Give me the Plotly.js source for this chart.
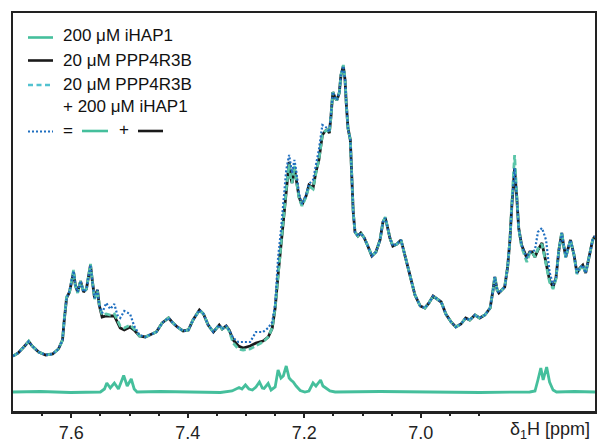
<!DOCTYPE html>
<html>
<head>
<meta charset="utf-8">
<script src="https://cdn.plot.ly/plotly-3.0.1.min.js"></script>
<style>html,body{margin:0;padding:0;background:#fff;}#chart{width:597px;height:443px;}</style>
</head>
<body>
<div id="chart"></div>
<script>
// chemical shift grid (ppm) shared by the protein / mixture / sum spectra
const ppm = [
7.700,7.691,7.680,7.673,7.667,7.656,7.644,7.632,7.622,7.615,
7.612,7.608,7.603,7.596,7.593,7.589,7.584,7.579,7.574,7.567,
7.564,7.560,7.555,7.552,7.547,7.540,7.533,7.526,7.521,7.516,
7.509,7.499,7.492,7.483,7.473,7.464,7.454,7.444,7.433,7.427,
7.418,7.408,7.399,7.391,7.380,7.373,7.365,7.356,7.351,7.346,
7.341,7.334,7.329,7.322,7.313,7.305,7.293,7.283,7.271,7.262,
7.255,7.250,7.245,7.240,7.235,7.231,7.226,7.223,7.221,7.217,
7.214,7.209,7.204,7.197,7.192,7.185,7.180,7.175,7.169,7.164,
7.161,7.157,7.154,7.151,7.147,7.144,7.140,7.137,7.133,7.130,
7.128,7.125,7.121,7.118,7.116,7.113,7.108,7.103,7.097,7.091,
7.084,7.077,7.070,7.065,7.061,7.058,7.053,7.048,7.041,7.034,
7.029,7.024,7.017,7.010,7.001,6.993,6.986,6.979,6.972,6.965,
6.957,6.948,6.940,6.931,6.923,6.916,6.907,6.899,6.890,6.881,
6.876,6.873,6.869,6.866,6.861,6.856,6.851,6.847,6.844,6.840,
6.839,6.835,6.832,6.827,6.818,6.813,6.809,6.804,6.799,6.792,
6.785,6.779,6.773,6.768,6.763,6.758,6.755,6.751,6.748,6.743,
6.737,6.732,6.727,6.722,6.717,6.710,6.705,6.701];

// 20 uM PPP4R3B (black)
const ppp4r3b = [
54,57,64,68.5,64,58,55,56,61,70,
90,112,118,138,125,118,129,118,121,145,
130,112,120,105,93,94,94,94,88,82,
80,83,80,74,73,75,78,87,92,88,
83,79,80,90,100,96,85,78,81,85,
81,84,80,70,64,62,64,67,69,73,
82,102,135,165,195,220,248,232,227,242,
232,213,205,214,225,222,238,250,275,279,
280,277,295,318,312,310,317,335,344,330,
307,282,270,230,198,178,174,177,172,164,
154,158,170,188,192,185,172,164,166,170,
158,147,132,115,104,102,107,114,111,108,
96,88,83,86,92,90,95,92,95,102,
120,133,120,117,120,123,143,170,202,235,
242,210,182,165,152,158,158,153,160,167,
148,130,123,132,160,177,165,153,160,170,
155,137,142,145,137,157,170,174];

// 20 uM PPP4R3B + 200 uM iHAP1 (dashed)
const mixture = [
54,57,64,69,64,58,55,56,61,70,
91,113,118,140,124,117,129,118,121,146,
130,111,119,106,95,96,95,96,90,84,
82,85,81,74,73,75,78,87,92,88,
83,79,80,90,100,96,85,78,81,85,
81,84,79,67,61,60,61,64,68,73,
82,103,136,166,196,221,246,230,227,244,
231,212,204,213,224,221,237,250,275,279,
280,277,295,318,312,310,317,335,345,331,
307,282,270,230,198,178,174,177,172,164,
154,158,170,188,193,185,172,164,166,170,
158,147,132,115,104,102,107,114,111,108,
96,88,83,86,92,90,95,92,95,102,
120,134,120,117,120,123,143,170,205,243,
255,212,182,163,148,157,158,153,161,166,
145,128,121,131,160,178,165,152,160,170,
155,136,141,145,137,157,170,174];

// sum of the two individual spectra (dotted)
const sumSpectrum = [
54,57,64,68.5,64,58,55,56,61,70,
90,112,119,139,125,118,129,118,121,145,
130,112,120,105,97,107,101,106,95,92,
99,96,84,75,73,75,78,87,92,88,
83,79,80,90,100,96,85,78,81,85,
81,84,80,72,68,68,68,78,78,82,
88,106,152,180,212,240,255,242,237,250,
240,216,206,215,226,230,244,260,285,283,
282,278,296,318,312,310,317,335,344,330,
307,282,270,230,198,178,174,177,172,164,
154,158,170,188,192,185,172,164,166,170,
158,147,132,115,104,102,107,114,111,108,
96,88,83,86,92,90,95,92,95,102,
120,133,120,117,120,123,143,170,202,235,
242,210,182,165,152,158,158,160,178,182,
170,138,125,132,160,177,165,153,160,170,
155,137,142,145,137,157,170,174];

// 200 uM iHAP1 alone (green, bottom)
const ppmIHAP1 = [
7.700,7.653,7.601,7.559,7.550,7.543,7.539,7.533,7.526,7.519,
7.514,7.510,7.504,7.497,7.492,7.487,7.447,7.396,7.344,7.324,
7.317,7.312,7.307,7.301,7.295,7.289,7.283,7.277,7.272,7.269,
7.262,7.257,7.250,7.245,7.240,7.236,7.231,7.226,7.223,7.219,
7.214,7.207,7.199,7.192,7.185,7.180,7.172,7.168,7.163,7.156,
7.147,7.070,6.984,6.899,6.813,6.804,6.799,6.794,6.790,6.784,
6.779,6.773,6.767,6.736,6.701];
const iHAP1 = [
18,18.5,17.5,18,18,21,27,22,27,21,
28,34.5,24,31,21,18,18.5,18,17.5,19,
21,22.5,21,25,21,20,23,28,22,21.5,
26.5,20,23,40,32,34,44,32,30,28,
24,19.5,18,19,27,24,30,24,22,19,
18,18.5,18,17.5,18,19,30,42,30,43,
28,20,18,18.5,18];

const majorTicks = [7.6, 7.4, 7.2, 7.0];
const minorTicks = [7.65,7.55,7.5,7.45,7.35,7.3,7.25,7.15,7.1,7.05,6.95,6.9];
const legendLabels = ['200 \u03bcM iHAP1','20 \u03bcM PPP4R3B','20 \u03bcM PPP4R3B','+ 200 \u03bcM iHAP1'];

const GREEN = '#45bf9c', BLACK = '#1a1a1a', DASHC = '#5ac5a8', LEGDASH = '#52c2d0', BLUE = '#1f6fc0';
const FONT = 'Liberation Sans, Arial, sans-serif';

const traces = [
  {x: ppmIHAP1, y: iHAP1, mode: 'lines', line: {color: GREEN, width: 2.8}, hoverinfo: 'skip'},
  {x: ppm, y: ppp4r3b, mode: 'lines', line: {color: BLACK, width: 2.8}, hoverinfo: 'skip'},
  {x: ppm, y: mixture, mode: 'lines', line: {color: DASHC, width: 2.8, dash: '6px,3px'}, hoverinfo: 'skip'},
  {x: ppm, y: sumSpectrum, mode: 'lines', line: {color: BLUE, width: 2.2, dash: '2px,2px'}, hoverinfo: 'skip'}
];

// legend drawn by hand (pixel -> paper helpers)
const L = 13, R = 595, T = 13, B = 411;
const px = v => (v - L) / (R - L);
const py = v => (B - v) / (B - T);
const shapes = [
  {type:'line', xref:'paper', yref:'paper', x0:px(28), x1:px(53), y0:py(37.5), y1:py(37.5), line:{color:GREEN, width:2.6}},
  {type:'line', xref:'paper', yref:'paper', x0:px(28), x1:px(53), y0:py(60.5), y1:py(60.5), line:{color:BLACK, width:2.6}},
  {type:'line', xref:'paper', yref:'paper', x0:px(28), x1:px(53), y0:py(85), y1:py(85), line:{color:LEGDASH, width:2.6, dash:'5px,3.5px'}},
  {type:'line', xref:'paper', yref:'paper', x0:px(28), x1:px(53), y0:py(131.5), y1:py(131.5), line:{color:BLUE, width:2.2, dash:'2px,2px'}},
  {type:'line', xref:'paper', yref:'paper', x0:px(82), x1:px(108), y0:py(131), y1:py(131), line:{color:GREEN, width:2.6}},
  {type:'line', xref:'paper', yref:'paper', x0:px(138), x1:px(163), y0:py(131), y1:py(131), line:{color:BLACK, width:2.6}}
];
const legY = [36, 60.5, 84.5, 106.5];
const annotations = legendLabels.map((t, i) => ({
  xref:'paper', yref:'paper', x:px(62), y:py(legY[i]), xanchor:'left', yanchor:'middle',
  text:t, showarrow:false, font:{family:FONT, size:17, color:'#111'}, borderpad:0
}));
annotations.push({xref:'paper', yref:'paper', x:px(62), y:py(130), xanchor:'left', yanchor:'middle',
  text:'=', showarrow:false, font:{family:FONT, size:17, color:'#111'}, borderpad:0});
annotations.push({xref:'paper', yref:'paper', x:px(118), y:py(129), xanchor:'left', yanchor:'middle',
  text:'+', showarrow:false, font:{family:FONT, size:17, color:'#111'}, borderpad:0});
annotations.push({xref:'paper', yref:'paper', x:px(591), y:py(430), xanchor:'right', yanchor:'middle',
  text:'\u03b4<sub>1</sub>H [ppm]', showarrow:false, font:{family:FONT, size:18, color:'#222'}, borderpad:0});

const layout = {
  width: 597, height: 443,
  margin: {l: L, r: 597 - R, t: T, b: 443 - B},
  paper_bgcolor: '#fff', plot_bgcolor: '#fff',
  showlegend: false,
  xaxis: {
    range: [7.70, 6.701], autorange: false,
    tickmode: 'array', tickvals: majorTicks, ticktext: majorTicks.map(v => v.toFixed(1)),
    ticks: 'outside', ticklen: 4, tickwidth: 2, tickcolor: '#222',
    minor: {tickmode: 'array', tickvals: minorTicks, ticks: 'outside', ticklen: 2.5, tickwidth: 2, tickcolor: '#222', showgrid: false},
    tickfont: {family: FONT, size: 18, color: '#222'},
    showline: true, linecolor: '#222', linewidth: 2.5, mirror: true,
    showgrid: false, zeroline: false
  },
  yaxis: {
    range: [-1, 397], autorange: false,
    showticklabels: false, ticks: '',
    showline: true, linecolor: '#222', linewidth: 2.5, mirror: true,
    showgrid: false, zeroline: false
  },
  shapes: shapes,
  annotations: annotations
};

Plotly.newPlot('chart', traces, layout, {staticPlot: true, displayModeBar: false});
</script>
</body>
</html>
